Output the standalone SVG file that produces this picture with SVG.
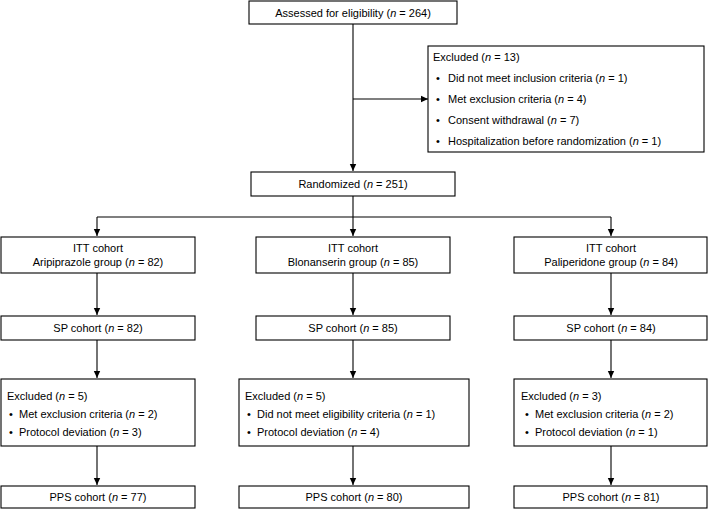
<svg xmlns="http://www.w3.org/2000/svg" width="709" height="510" viewBox="0 0 709 510">
<style>
.b{fill:#fff;stroke:#000;stroke-width:1.1}
.t{font-family:"Liberation Sans",Arial,sans-serif;font-size:11px;fill:#000}
.c{text-anchor:middle}
.i{font-style:italic}
.l{fill:none;stroke:#000;stroke-width:1.1}
</style>
<defs>
<marker id="a" markerWidth="8" markerHeight="8" refX="7" refY="4" orient="auto" markerUnits="userSpaceOnUse">
<path d="M0,0.8 L7,4 L0,7.2 Z" fill="#000"/>
</marker>
</defs>
<rect width="709" height="510" fill="#fff"/>
<g id="connectors">
<path class="l" d="M353,24 V171" marker-end="url(#a)"/>
<path class="l" d="M353,99 H428" marker-end="url(#a)"/>
<path class="l" d="M353,196 V236" marker-end="url(#a)"/>
<path class="l" d="M97,217 H611"/>
<path class="l" d="M97,217 V236" marker-end="url(#a)"/>
<path class="l" d="M611,217 V236" marker-end="url(#a)"/>
<path class="l" d="M97,273 V315" marker-end="url(#a)"/>
<path class="l" d="M353,273 V315" marker-end="url(#a)"/>
<path class="l" d="M611,273 V315" marker-end="url(#a)"/>
<path class="l" d="M97,340 V378" marker-end="url(#a)"/>
<path class="l" d="M353,340 V378" marker-end="url(#a)"/>
<path class="l" d="M611,340 V378" marker-end="url(#a)"/>
<path class="l" d="M97,446 V485" marker-end="url(#a)"/>
<path class="l" d="M353,446 V485" marker-end="url(#a)"/>
<path class="l" d="M611,446 V485" marker-end="url(#a)"/>
</g>
<g id="assessed">
<rect class="b" x="249" y="1" width="208" height="23"/>
<text class="t c" x="353" y="16.5">Assessed for eligibility (<tspan class="i">n</tspan> = 264)</text>
</g>
<g id="excluded-top">
<rect class="b" x="428" y="46" width="276" height="106"/>
<text class="t" x="433" y="61">Excluded (<tspan class="i">n</tspan> = 13)</text>
<text class="t" x="436" y="82">•</text><text class="t" x="448" y="82">Did not meet inclusion criteria (<tspan class="i">n</tspan> = 1)</text>
<text class="t" x="436" y="103">•</text><text class="t" x="448" y="103">Met exclusion criteria (<tspan class="i">n</tspan> = 4)</text>
<text class="t" x="436" y="124">•</text><text class="t" x="448" y="124">Consent withdrawal (<tspan class="i">n</tspan> = 7)</text>
<text class="t" x="436" y="145">•</text><text class="t" x="448" y="145">Hospitalization before randomization (<tspan class="i">n</tspan> = 1)</text>
</g>
<g id="randomized">
<rect class="b" x="251" y="172" width="204" height="24"/>
<text class="t c" x="353" y="188">Randomized (<tspan class="i">n</tspan> = 251)</text>
</g>
<g id="itt-ari">
<rect class="b" x="1" y="237" width="194" height="36"/>
<text class="t c" x="98" y="252">ITT cohort</text>
<text class="t c" x="98" y="266">Aripiprazole group (<tspan class="i">n</tspan> = 82)</text>
</g>
<g id="itt-blo">
<rect class="b" x="256" y="237" width="194" height="36"/>
<text class="t c" x="353" y="252">ITT cohort</text>
<text class="t c" x="353" y="266">Blonanserin group (<tspan class="i">n</tspan> = 85)</text>
</g>
<g id="itt-pal">
<rect class="b" x="514" y="237" width="193" height="36"/>
<text class="t c" x="611" y="252">ITT cohort</text>
<text class="t c" x="611" y="266">Paliperidone group (<tspan class="i">n</tspan> = 84)</text>
</g>
<g id="sp-ari">
<rect class="b" x="1" y="316" width="194" height="24"/>
<text class="t c" x="98" y="332">SP cohort (<tspan class="i">n</tspan> = 82)</text>
</g>
<g id="sp-blo">
<rect class="b" x="256" y="316" width="194" height="24"/>
<text class="t c" x="353" y="332">SP cohort (<tspan class="i">n</tspan> = 85)</text>
</g>
<g id="sp-pal">
<rect class="b" x="514" y="316" width="193" height="24"/>
<text class="t c" x="611" y="332">SP cohort (<tspan class="i">n</tspan> = 84)</text>
</g>
<g id="exc-ari">
<rect class="b" x="1" y="379" width="194" height="67"/>
<text class="t" x="7" y="400">Excluded (<tspan class="i">n</tspan> = 5)</text>
<text class="t" x="9" y="418">•</text><text class="t" x="19" y="418">Met exclusion criteria (<tspan class="i">n</tspan> = 2)</text>
<text class="t" x="9" y="436">•</text><text class="t" x="19" y="436">Protocol deviation (<tspan class="i">n</tspan> = 3)</text>
</g>
<g id="exc-blo">
<rect class="b" x="239" y="379" width="230" height="67"/>
<text class="t" x="245" y="400">Excluded (<tspan class="i">n</tspan> = 5)</text>
<text class="t" x="247" y="418">•</text><text class="t" x="257" y="418">Did not meet eligibility criteria (<tspan class="i">n</tspan> = 1)</text>
<text class="t" x="247" y="436">•</text><text class="t" x="257" y="436">Protocol deviation (<tspan class="i">n</tspan> = 4)</text>
</g>
<g id="exc-pal">
<rect class="b" x="514" y="379" width="193" height="67"/>
<text class="t" x="521" y="400">Excluded (<tspan class="i">n</tspan> = 3)</text>
<text class="t" x="525" y="418">•</text><text class="t" x="535" y="418">Met exclusion criteria (<tspan class="i">n</tspan> = 2)</text>
<text class="t" x="525" y="436">•</text><text class="t" x="535" y="436">Protocol deviation (<tspan class="i">n</tspan> = 1)</text>
</g>
<g id="pps-ari">
<rect class="b" x="1" y="486" width="194" height="22"/>
<text class="t c" x="98" y="501">PPS cohort (<tspan class="i">n</tspan> = 77)</text>
</g>
<g id="pps-blo">
<rect class="b" x="239" y="486" width="230" height="22"/>
<text class="t c" x="354" y="501">PPS cohort (<tspan class="i">n</tspan> = 80)</text>
</g>
<g id="pps-pal">
<rect class="b" x="514" y="486" width="193" height="22"/>
<text class="t c" x="611" y="501">PPS cohort (<tspan class="i">n</tspan> = 81)</text>
</g>
</svg>
